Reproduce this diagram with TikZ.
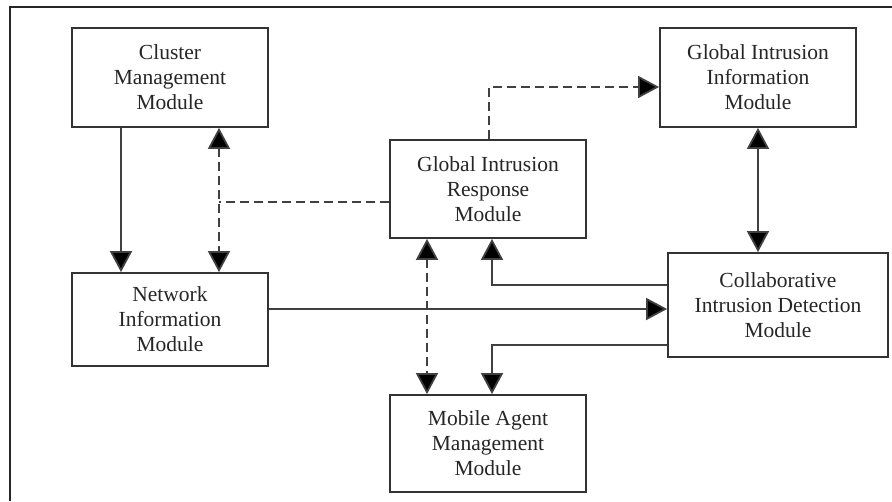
\documentclass[tikz,border=0pt]{standalone}
\usepackage{fontspec}
\setmainfont{Liberation Serif}
\usetikzlibrary{arrows.meta}
\begin{document}
\begin{tikzpicture}[x=1pt,y=-1pt,
  mod/.style={draw=black!80,line width=1.8pt,rectangle,inner sep=0pt,align=center,
    text=black!85,font=\fontsize{21.5}{25}\selectfont,minimum width=196pt},
  conn/.style={draw=black!75,line width=1.8pt},
  dconn/.style={conn,dash pattern=on 9pt off 5pt},
  tip/.style={-{Triangle[length=21pt,width=22pt,fill=black]}},
  tips/.style={{Triangle[length=21pt,width=22pt,fill=black]}-{Triangle[length=21pt,width=22pt,fill=black]}}]
\useasboundingbox (0,0) rectangle (892,501);
\fill[white] (0,0) rectangle (892,501);
\draw[black!85,line width=2.6pt] (10,501) -- (10,7) -- (892,7);
\node[mod,minimum height=99pt] (clu) at (170,77.5) {Cluster\\Management\\Module};
\node[mod,minimum height=93pt] (net) at (170,319.5) {Network\\Information\\Module};
\node[mod,minimum height=98pt] (gir) at (488,189) {Global Intrusion\\Response\\Module};
\node[mod,minimum height=99pt] (gii) at (758,77.5) {Global Intrusion\\Information\\Module};
\node[mod,minimum height=104pt,minimum width=220pt] (cid) at (778,305) {Collaborative\\Intrusion Detection\\Module};
\node[mod,minimum height=97pt] (mam) at (488,443.5) {Mobile Agent\\Management\\Module};
\coordinate (xa) at (121,0);
\coordinate (xb) at (219,0);
\coordinate (xc) at (489,0);
\coordinate (xd) at (427,0);
\coordinate (xe) at (492,0);
\coordinate (xf) at (758,0);
\coordinate (ya) at (0,202);
\coordinate (yb) at (0,87);
\coordinate (yc) at (0,309);
\coordinate (yd) at (0,285);
\coordinate (ye) at (0,345);
\coordinate (jb) at (219,202);
% connectors
\draw[conn,tip] (clu.south -| xa) -- (net.north -| xa);
\draw[dconn,tips] (clu.south -| xb) -- (net.north -| xb);
\draw[dconn] (gir.west |- ya) -- (jb);
\draw[dconn,tip] (gir.north -| xc) -- (xc |- yb) -- (gii.west |- yb);
\draw[conn,tips] (gii.south -| xf) -- (cid.north -| xf);
\draw[dconn,tips] (gir.south -| xd) -- (mam.north -| xd);
\draw[conn,tip] (net.east |- yc) -- (cid.west |- yc);
\draw[conn,tip] (cid.west |- yd) -- (xe |- yd) -- (gir.south -| xe);
\draw[conn,tip] (cid.west |- ye) -- (xe |- ye) -- (mam.north -| xe);
\end{tikzpicture}
\end{document}
